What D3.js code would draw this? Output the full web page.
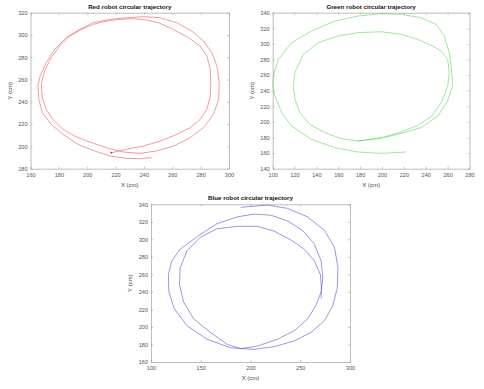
<!DOCTYPE html>
<html><head><meta charset="utf-8">
<script src="https://cdn.jsdelivr.net/npm/d3@7"></script>
<style>body{margin:0;background:#fff}svg{display:block}</style>
</head><body>
<script>
// ---- data (cm) ----
const redX = [217.1,227.8,239.6,251.4,263.2,272.6,279.7,284.4,286.8,287.2,286.8,284.4,279.7,271.4,260.8,250.2,241.9,232.5,223.0,213.6,204.1,195.9,187.6,180.5,174.6,169.9,167.6,168.3,171.1,175.8,182.9,191.2,201.8,213.6,225.4,237.2,
  249.0,260.8,272.6,282.0,289.1,292.7,293.1,291.5,287.9,282.0,273.8,263.2,251.4,239.6,227.8,215.9,204.1,194.7,185.3,177.0,171.1,166.8,165.2,165.9,168.3,174.6,182.9,193.5,205.3,215.9,227.8,237.2,245.5];
const redY = [194.4,197.4,200.3,204.8,210.8,216.8,224.3,233.3,245.2,257.2,269.1,281.1,290.1,297.6,305.0,311.0,313.4,314.6,314.0,312.5,309.5,305.0,299.1,290.1,279.6,267.7,255.7,243.7,233.3,224.3,215.3,209.3,203.9,198.8,195.0,193.8,
  195.9,200.3,207.8,216.8,228.8,242.2,257.2,272.1,284.1,294.6,303.5,311.0,315.5,316.4,315.5,314.0,311.0,305.0,297.6,287.1,275.1,263.2,254.2,242.2,230.3,219.8,210.8,201.8,195.9,191.4,189.3,189.0,189.9];

const greenX = [178.0,199.3,217.5,232.7,244.8,253.9,260.0,261.5,260.0,253.9,246.3,232.7,217.5,199.3,178.0,159.8,141.6,127.9,120.3,118.8,120.3,124.9,134.0,147.7,162.8,178.0,
  199.3,217.5,235.7,250.9,260.0,264.5,263.6,261.5,257.0,249.4,235.7,217.5,199.3,178.0,156.8,135.5,117.3,105.2,100.6,100.0,102.1,108.2,117.3,135.5,156.8,178.0,199.3,222.0];
const greenY = [175.5,179.8,187.0,195.6,206.7,223.8,245.1,263.1,280.2,290.9,297.3,305.8,312.2,315.6,314.4,310.1,301.5,286.6,263.1,246.0,228.9,211.8,196.8,186.2,178.5,175.5,
  179.0,185.3,192.6,207.5,226.8,246.0,267.4,288.7,310.1,325.0,333.6,337.9,338.7,335.7,329.3,316.5,301.5,280.2,258.8,246.0,233.2,211.8,194.7,177.6,167.0,161.4,159.7,161.4];

const blueX = [190.1,217.0,237.3,257.5,274.4,284.5,287.9,287.2,282.8,274.4,260.9,244.0,223.8,203.5,179.9,156.3,136.1,123.3,117.9,117.5,120.9,129.3,147.9,166.4,186.7,203.5,220.4,237.3,252.4,264.2,271.0,272.7,271.0,265.9,257.5,244.0,227.2,206.9,190.1,176.6,159.7,142.8,132.7,128.7,129.3,136.1,149.6,166.4,186.7,206.9,223.8,240.6,254.1,264.2,270.3,271.3,271.0];
const blueY = [336.5,339.2,335.3,325.6,310.1,290.7,267.5,244.2,224.8,207.3,193.8,184.1,177.5,174.4,176.3,186.0,201.5,220.9,240.3,259.7,275.2,288.8,304.3,317.9,325.6,328.8,327.6,321.0,310.1,294.6,275.2,255.8,240.3,224.8,209.3,195.7,186.0,178.2,175.1,180.2,193.8,209.3,228.7,248.1,267.5,286.9,302.4,312.1,314.8,314.8,309.4,299.3,288.8,275.2,259.7,244.2,232.6];

const redXTicks = [160,180,200,220,240,260,280,300];
const redYTicks = [180,200,220,240,260,280,300,320];
const greenXTicks = [100,120,140,160,180,200,220,240,260,280];
const greenYTicks = [140,160,180,200,220,240,260,280,300,320,340];
const blueXTicks = [100,150,200,250,300];
const blueYTicks = [160,180,200,220,240,260,280,300,320,340];

const titles = ["Red robot circular trajectory","Green robot circular trajectory","Blue robot circular trajectory"];
const xLabel = "X (cm)", yLabel = "Y (cm)";

// ---- drawing ----
const svg = d3.select("body").append("svg").attr("width",484).attr("height",389);
const FONT = "'Liberation Sans', Arial, Helvetica, sans-serif";

function panel(cfg){
  const {l,r,t,b,xd,yd,xt,yt,xs,ys,color,title} = cfg;
  const x = d3.scaleLinear().domain(xd).range([l,r]);
  const y = d3.scaleLinear().domain(yd).range([b,t]);
  const g = svg.append("g");
  const tl = 2;
  const ax = (axis, tr) => {
    const a = g.append("g").attr("transform",tr).call(axis);
    a.select(".domain").attr("stroke","#a0a0a0").attr("stroke-width",0.7);
    a.selectAll(".tick line").attr("stroke","#a0a0a0").attr("stroke-width",0.6);
    a.selectAll("text").attr("font-family",FONT).attr("font-size",5.6).attr("fill","#555");
    return a;
  };
  ax(d3.axisBottom(x).tickValues(xt).tickSize(-tl).tickSizeOuter(0).tickPadding(4), `translate(0,${b})`);
  ax(d3.axisLeft(y).tickValues(yt).tickSize(-tl).tickSizeOuter(0).tickPadding(3), `translate(${l},0)`);
  const top = ax(d3.axisTop(x).tickValues(xt).tickSize(-tl).tickSizeOuter(0), `translate(0,${t})`);
  top.selectAll("text").remove();
  const rt = ax(d3.axisRight(y).tickValues(yt).tickSize(-tl).tickSizeOuter(0), `translate(${r},0)`);
  rt.selectAll("text").remove();

  const line = d3.line().x((d,i)=>x(xs[i])).y((d,i)=>y(ys[i]));
  g.append("path").datum(xs).attr("d",line).attr("fill","none")
    .attr("stroke",color).attr("stroke-width",0.6).attr("stroke-linejoin","round");

  g.append("text").attr("x",(l+r)/2).attr("y",t-4).attr("text-anchor","middle")
    .attr("font-family",FONT).attr("font-weight","bold").attr("font-size",6.2).attr("fill","#111").text(title);
  g.append("text").attr("x",(l+r)/2).attr("y",b+18).attr("text-anchor","middle")
    .attr("font-family",FONT).attr("font-size",6).attr("fill","#444").text(xLabel);
  g.append("text").attr("transform",`translate(${l-19},${(t+b)/2}) rotate(-90)`).attr("text-anchor","middle")
    .attr("font-family",FONT).attr("font-size",6).attr("fill","#444").text(yLabel);
  return {x,y,g};
}

const red = panel({l:30.5,r:229,t:12.7,b:168.7,xd:[160,300],yd:[180,320],xt:redXTicks,yt:redYTicks,xs:redX,ys:redY,color:"#e85a5e",title:titles[0]});
// start marker on red trajectory
red.g.append("circle").attr("cx",red.x(redX[0])).attr("cy",red.y(redY[0])).attr("r",0.9).attr("fill","#c0202a");

panel({l:272.7,r:469.5,t:12.7,b:168.7,xd:[100,280],yd:[140,340],xt:greenXTicks,yt:greenYTicks,xs:greenX,ys:greenY,color:"#5cd65c",title:titles[1]});
panel({l:151,r:350,t:204.3,b:362,xd:[100,300],yd:[160,340],xt:blueXTicks,yt:blueYTicks,xs:blueX,ys:blueY,color:"#5252d2",title:titles[2]});
</script>
</body></html>
